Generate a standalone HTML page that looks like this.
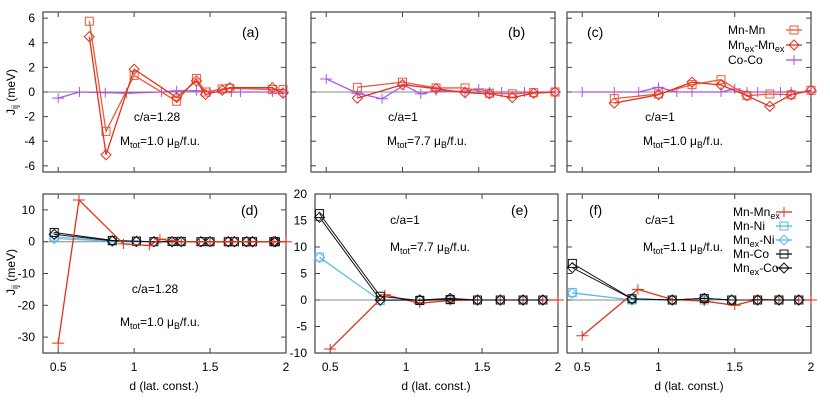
<!DOCTYPE html>
<html><head><meta charset="utf-8"><style>
body{margin:0;background:#fff;width:830px;height:403px;overflow:hidden}
svg{font-family:"Liberation Sans",sans-serif;font-size:12px}
</style></head><body>
<svg id="c" width="830" height="403"></svg>
<script>
// ---- data ----
const aMnMnX=[0.705,0.815,1.0,1.28,1.41,1.47,1.58,1.63,1.91,1.98];
const aMnMnY=[5.75,-3.2,1.35,-0.75,1.1,0.0,0.25,0.3,0.2,0.2];
const aExExX=[0.705,0.815,1.0,1.28,1.41,1.47,1.58,1.63,1.91,1.98];
const aExExY=[4.5,-5.1,1.85,-0.45,0.9,-0.2,0.15,0.35,0.35,-0.1];
const aCoCoX=[0.5,0.64,0.81,0.95,1.18,1.28,1.41,1.5,1.64,1.7,1.91,1.98];
const aCoCoY=[-0.5,0,-0.05,-0.1,0,0.1,0.1,0,0,0,0,0];
const bMnMnX=[0.704,1.0,1.22,1.41,1.57,1.72,1.86,2.0];
const bMnMnY=[0.38,0.8,0.33,0.33,-0.1,-0.15,-0.05,0];
const bExExX=[0.704,1.0,1.22,1.41,1.57,1.72,1.86,2.0];
const bExExY=[-0.5,0.6,0.27,-0.05,-0.15,-0.45,-0.1,0];
const bCoCoX=[0.5,0.704,0.866,1.01,1.12,1.22,1.41,1.5,1.57,1.65,1.8,2.0];
const bCoCoY=[1.06,-0.1,-0.55,0.55,-0.15,0.1,0.05,0.25,0,0,0,0];
const cMnMnX=[0.71,1.0,1.22,1.41,1.58,1.73,1.87,2.0];
const cMnMnY=[-0.54,-0.16,0.6,1.0,-0.3,-0.16,-0.22,0.14];
const cExExX=[0.71,1.0,1.22,1.41,1.58,1.73,1.87,2.0];
const cExExY=[-0.9,-0.22,0.8,0.57,-0.3,-1.17,-0.22,0.14];
const cCoCoX=[0.5,0.71,0.87,1.0,1.12,1.22,1.41,1.5,1.58,1.65,1.8,1.87,2.0];
const cCoCoY=[0,0,0,0.38,0,0,0,0.25,0,0,0,0,0];
const dMnExX=[0.5,0.637,0.93,1.1,1.17,1.25,1.31,1.43,1.5,1.6,1.65,1.75,1.8,1.92,2.0];
const dMnExY=[-31.9,13.1,-0.7,-1.2,0.8,0.3,0,0,0,0,0,0,0,0,0];
const dNbX=[0.474,0.856,1.015,1.13,1.25,1.31,1.44,1.5,1.62,1.66,1.74,1.78,1.92,1.93];
const dMnNiY=[1.5,0.2,0,0,0,0,0,0,0,0,0,0,0,0];
const dExNiY=[1.0,0.1,0,0,0,0,0,0,0,0,0,0,0,0];
const dMnCoY=[2.9,0.4,0.2,0,0.1,0.1,0,0,0,0,0,0,0,0];
const dExCoY=[2.3,0.3,0.1,0,0,0,0,0,0,0,0,0,0,0];
const eMnExX=[0.5,0.86,1.09,1.29,1.47,1.62,1.77,1.9,2.0];
const eMnExY=[-9.25,1.0,-0.6,-0.1,0,0,0,0,0];
const eNbX=[0.43,0.83,1.09,1.29,1.47,1.62,1.77,1.9];
const eMnNiY=[8.1,-0.1,0,0,0,0,0,0];
const eExNiY=[8.0,-0.1,0,0,0,0,0,0];
const eMnCoY=[16.3,0.7,-0.1,0.1,0,0,0,0];
const eExCoY=[15.6,0.0,0,0.3,0,0,0,0];
const fMnExX=[0.5,0.865,1.09,1.3,1.5,1.65,1.79,1.92,2.0];
const fMnExY=[-6.75,2.0,0.1,-0.2,-1.0,0.1,0,0,0];
const fNbX=[0.435,0.826,1.09,1.3,1.48,1.65,1.79,1.92];
const fMnNiY=[1.4,0,0,0,0,0,0,0];
const fExNiY=[1.3,0,0,0,0,0,0,0];
const fMnCoY=[6.9,0.25,0,0.3,0,0,0,0];
const fExCoY=[6.1,0.2,0,0.3,0,0,0,0];
const xTicks=[0.5,1,1.5,2];
const yTicksTop=[-6,-4,-2,0,2,4,6];
const yTicksD=[-30,-20,-10,0,10];
const yTicksEF=[-10,-5,0,5,10,15,20];

// ---- drawing ----
const svg=document.getElementById('c');
const NS='http://www.w3.org/2000/svg';
function el(tag,attrs,parent){const e=document.createElementNS(NS,tag);for(const k in attrs)e.setAttribute(k,attrs[k]);(parent||svg).appendChild(e);return e;}
const C={mn:'#f0583a',ex:'#e2321a',co:'#a855e8',ni:'#5db8ea',k:'#111'};

function marker(g,type,x,y,col){
  let m;
  if(type==='sq'){m=el('rect',{x:x-4,y:y-4,width:8,height:8,fill:'none',stroke:col,'stroke-width':1},g);}
  else if(type==='di'){m=el('path',{d:`M${x} ${y-5}L${x+5} ${y}L${x} ${y+5}L${x-5} ${y}Z`,fill:'none',stroke:col,'stroke-width':1},g);}
  else {m=el('path',{d:`M${x-6} ${y}H${x+6}M${x} ${y-5}V${y+5}`,stroke:col,'stroke-width':1},g);}
  
  
}
function series(P,xs,ys,type,col,name,w){
  const g=el('g',{},P.g);
  
  
  const pts=xs.map((v,i)=>[P.sx(v),P.sy(ys[i])]);
  el('polyline',{points:pts.map(p=>p.join(',')).join(' '),fill:'none',stroke:col,'stroke-width':w||1.3},g);
  pts.forEach(p=>marker(g,type,p[0],p[1],col));
}
function panel(name,x0,x1,y0,y1,ymin,ymax,yt,showY,showX){
  const g=el('g',{});
  
  
  const sx=v=>x0+(v-0.4)/1.6*(x1-x0);
  const sy=v=>y1-(v-ymin)/(ymax-ymin)*(y1-y0);
  el('line',{x1:x0,x2:x1,y1:sy(0),y2:sy(0),stroke:'#888','stroke-width':1},g);
  xTicks.forEach(t=>{const x=sx(t);
    el('line',{x1:x,x2:x,y1:y1,y2:y1-5,stroke:'#444'},g);
    el('line',{x1:x,x2:x,y1:y0,y2:y0+5,stroke:'#444'},g);
    if(showX){const tx=el('text',{x:x,y:y1+18,'text-anchor':'middle'},g);tx.textContent=t;
      }
  });
  yt.forEach(t=>{const y=sy(t);
    el('line',{x1:x0,x2:x0+5,y1:y,y2:y,stroke:'#444'},g);
    el('line',{x1:x1,x2:x1-5,y1:y,y2:y,stroke:'#444'},g);
    if(showY){const tx=el('text',{x:x0-8,y:y+4,'text-anchor':'end'},g);tx.textContent=t;
      }
  });
  const b=el('rect',{x:x0,y:y0,width:x1-x0,height:y1-y0,fill:'none',stroke:'#444','stroke-width':1.2},g);
  
  return {g,sx,sy};
}
function txt(s,x,y,name,anchor,fs){const t=el('text',{x:x,y:y,'text-anchor':anchor||'start','font-size':fs||12});t.innerHTML=s;
  return t;}
const M=v=>`M<tspan font-size="9" dy="3">tot</tspan><tspan dy="-3">=${v} μ</tspan><tspan font-size="9" dy="3">B</tspan><tspan dy="-3">/f.u.</tspan>`;
const EX='<tspan font-size="9" dy="3">ex</tspan><tspan dy="-3">';

// top row
const A=panel('panel-a',43,286,12,172,-6.5,6.5,yTicksTop,true,false);
series(A,aCoCoX,aCoCoY,'pl',C.co,'series-co-co');
series(A,aMnMnX,aMnMnY,'sq',C.mn,'series-mn-mn');
series(A,aExExX,aExExY,'di',C.ex,'series-mnex-mnex');
const B=panel('panel-b',311,555,12,172,-6.5,6.5,yTicksTop,false,false);
series(B,bCoCoX,bCoCoY,'pl',C.co,'series-co-co');
series(B,bMnMnX,bMnMnY,'sq',C.mn,'series-mn-mn');
series(B,bExExX,bExExY,'di',C.ex,'series-mnex-mnex');
const Cp=panel('panel-c',567,811,12,172,-6.5,6.5,yTicksTop,false,false);
series(Cp,cCoCoX,cCoCoY,'pl',C.co,'series-co-co');
series(Cp,cMnMnX,cMnMnY,'sq',C.mn,'series-mn-mn');
series(Cp,cExExX,cExExY,'di',C.ex,'series-mnex-mnex');
// bottom row
const D=panel('panel-d',43,286,194,353,-35,15,yTicksD,true,true);
series(D,dNbX,dMnNiY,'sq',C.ni,'series-mn-ni',1);
series(D,dNbX,dExNiY,'di',C.ni,'series-mnex-ni',1);
series(D,dNbX,dMnCoY,'sq',C.k,'series-mn-co',1);
series(D,dNbX,dExCoY,'di',C.k,'series-mnex-co',1);
series(D,dMnExX,dMnExY,'pl',C.ex,'series-mn-mnex');
const E=panel('panel-e',315,558,194,353,-10,20,yTicksEF,true,true);
series(E,eNbX,eMnNiY,'sq',C.ni,'series-mn-ni',1);
series(E,eNbX,eExNiY,'di',C.ni,'series-mnex-ni',1);
series(E,eMnExX,eMnExY,'pl',C.ex,'series-mn-mnex');
series(E,eNbX,eMnCoY,'sq',C.k,'series-mn-co',1);
series(E,eNbX,eExCoY,'di',C.k,'series-mnex-co',1);
const F=panel('panel-f',567,811,194,353,-10,20,yTicksEF,false,true);
series(F,fNbX,fMnNiY,'sq',C.ni,'series-mn-ni',1);
series(F,fNbX,fExNiY,'di',C.ni,'series-mnex-ni',1);
series(F,fMnExX,fMnExY,'pl',C.ex,'series-mn-mnex');
series(F,fNbX,fMnCoY,'sq',C.k,'series-mn-co',1);
series(F,fNbX,fExCoY,'di',C.k,'series-mnex-co',1);

// annotations
txt('(a)',242,37,'panel-label-a','start',14);txt('(b)',508,37,'panel-label-b','start',14);txt('(c)',587,37,'panel-label-c','start',14);
txt('(d)',241,215,'panel-label-d','start',14);txt('(e)',511,215,'panel-label-e','start',14);txt('(f)',589,215,'panel-label-f','start',14);
txt('c/a=1.28',157,121,'ca-label-a','middle');txt('c/a=1',403,121,'ca-label-b','middle');txt('c/a=1',660,121,'ca-label-c','middle');
txt('c/a=1.28',155,293,'ca-label-d','middle');txt('c/a=1',405,224,'ca-label-e','middle');txt('c/a=1',660,224,'ca-label-f','middle');
txt(M('1.0'),120,145,'mtot-label-a');txt(M('7.7'),387,145,'mtot-label-b');txt(M('1.0'),643,145,'mtot-label-c');
txt(M('1.0'),120,326,'mtot-label-d');txt(M('7.7'),390,251,'mtot-label-e');txt(M('1.1'),643,251,'mtot-label-f');
// axis titles
[[15,92],[15,272]].forEach(p=>{const t=el('text',{x:p[0],y:p[1],'text-anchor':'middle','font-size':12,transform:`rotate(-90 ${p[0]} ${p[1]})`});
  t.innerHTML='J<tspan font-size="9" dy="3">ij</tspan><tspan dy="-3"> (meV)</tspan>';
  });
[164,436,689].forEach(x=>txt('d (lat. const.)',x,390,'x-axis-title','middle'));

// legends
function legend(items,tx,sx,y0,dy,name){
  const g=el('g',{});
  
  
  items.forEach((it,i)=>{const y=y0+i*dy;
    const t=el('text',{x:tx,y:y+4,'text-anchor':'start','font-size':12},g);t.innerHTML=it[0];
    
    el('line',{x1:sx-8,x2:sx+8,y1:y,y2:y,stroke:it[2],'stroke-width':1.3},g);
    marker(g,it[1],sx,y,it[2]);});
}
legend([['Mn-Mn','sq',C.mn],['Mn'+EX+'-Mn</tspan>'+EX+'</tspan>','di',C.ex],['Co-Co','pl',C.co]],728,794,30,15,'legend-top');
legend([['Mn-Mn'+EX+'</tspan>','pl',C.ex],['Mn-Ni','sq',C.ni],['Mn'+EX+'-Ni</tspan>','di',C.ni],['Mn-Co','sq',C.k],['Mn'+EX+'-Co</tspan>','di',C.k]],733,784,212,14,'legend-bottom');
</script>
</body></html>
